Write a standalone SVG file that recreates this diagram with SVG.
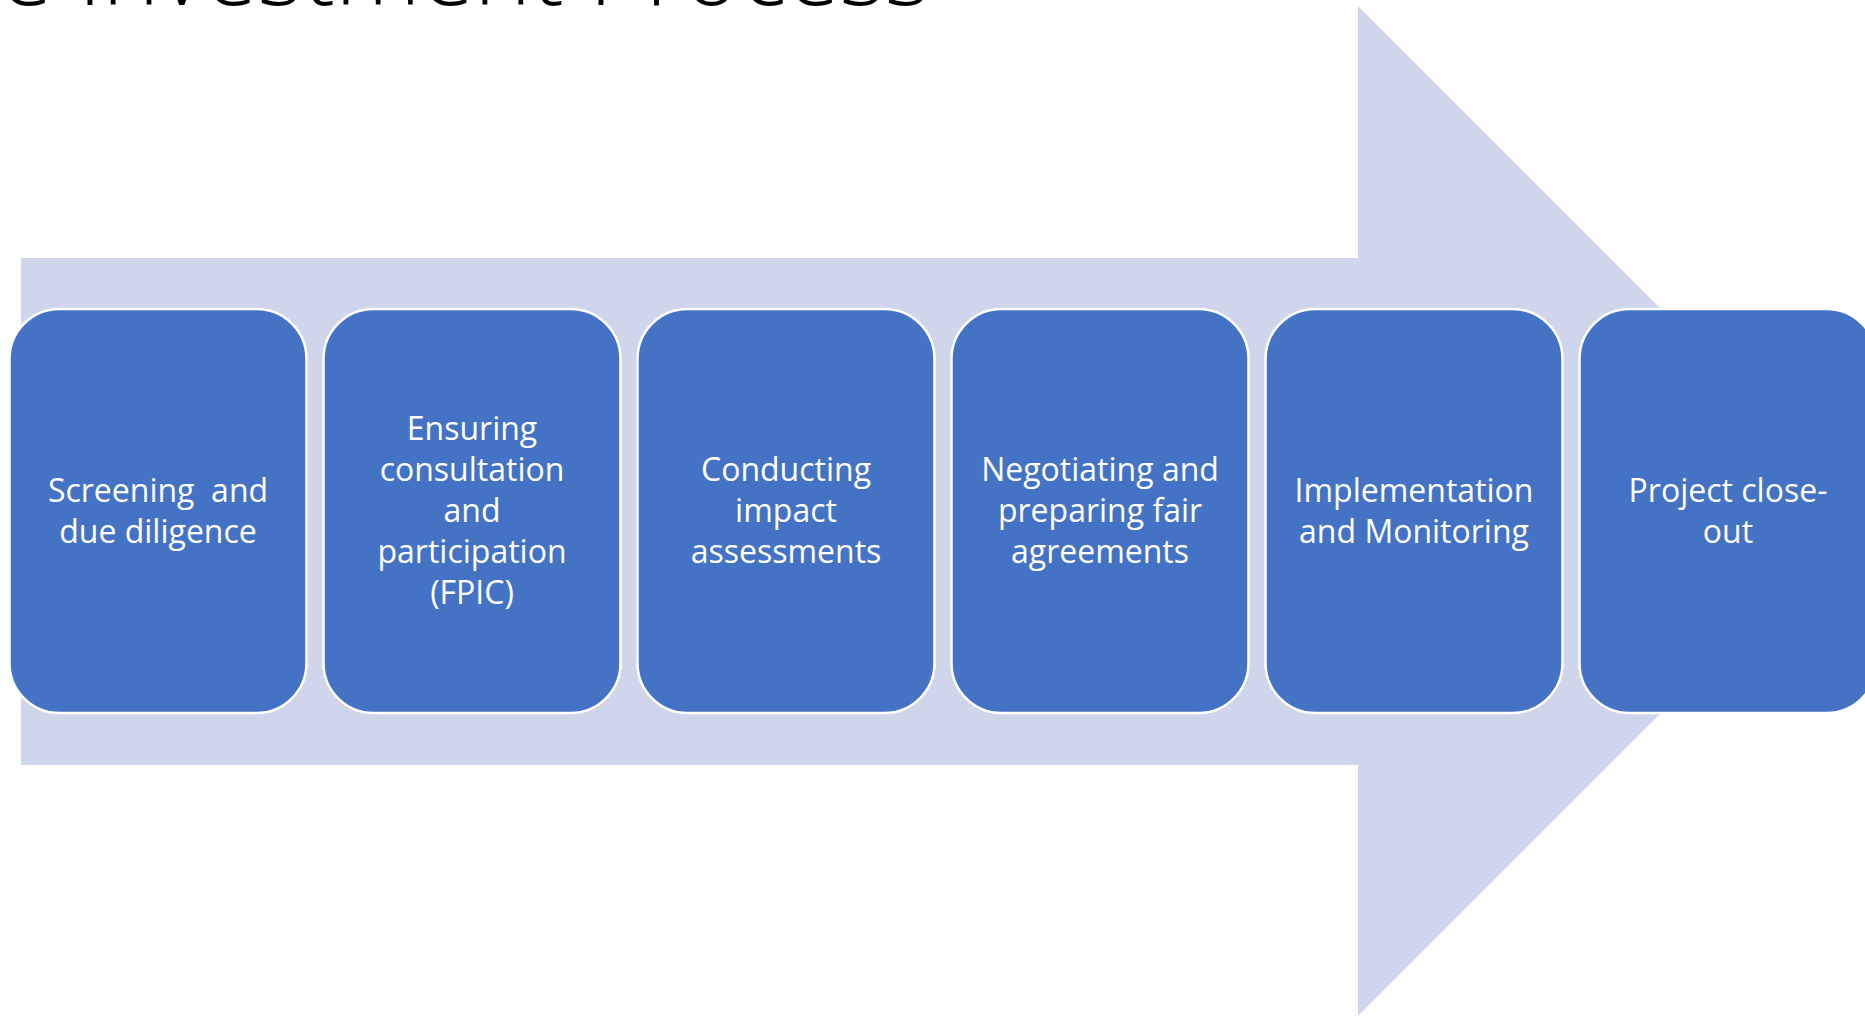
<svg xmlns="http://www.w3.org/2000/svg" width="1865" height="1016" viewBox="0 0 1865 1016">
<style>
.box{fill:#4472C4;stroke:#FFFFFF;stroke-width:2.5}
.lbl{font-family:"Open Sans","Noto Sans","Liberation Sans",sans-serif;font-size:32px;fill:#FFFFFF;text-anchor:middle;white-space:pre}
.title{font-family:"Open Sans","Liberation Sans",sans-serif;font-weight:300;font-size:97px;fill:#000000;text-anchor:end}
</style>
<rect width="1865" height="1016" fill="#FFFFFF"/>
<text class="title" x="930" y="5">e Investment Process</text>
<g id="connectors">
<polygon id="process-arrow" points="21,258 1358,258 1358,6 1863,511 1358,1016 1358,765 21,765" fill="#CFD5EA"/>
</g>
<g id="node-1">
<rect class="box" x="9.5" y="309" width="297" height="404" rx="50" ry="50"/>
<text class="lbl" x="158" y="501.5" xml:space="preserve">Screening  and</text>
<text class="lbl" x="158" y="542.5">due diligence</text>
</g>
<g id="node-2">
<rect class="box" x="323.5" y="309" width="297" height="404" rx="50" ry="50"/>
<text class="lbl" x="472" y="440">Ensuring</text>
<text class="lbl" x="472" y="481">consultation</text>
<text class="lbl" x="472" y="522">and</text>
<text class="lbl" x="472" y="563">participation</text>
<text class="lbl" x="472" y="604">(FPIC)</text>
</g>
<g id="node-3">
<rect class="box" x="637.5" y="309" width="297" height="404" rx="50" ry="50"/>
<text class="lbl" x="786" y="481">Conducting</text>
<text class="lbl" x="786" y="522">impact</text>
<text class="lbl" x="786" y="563">assessments</text>
</g>
<g id="node-4">
<rect class="box" x="951.5" y="309" width="297" height="404" rx="50" ry="50"/>
<text class="lbl" x="1100" y="481">Negotiating and</text>
<text class="lbl" x="1100" y="522">preparing fair</text>
<text class="lbl" x="1100" y="563">agreements</text>
</g>
<g id="node-5">
<rect class="box" x="1265.5" y="309" width="297" height="404" rx="50" ry="50"/>
<text class="lbl" x="1414" y="501.5">Implementation</text>
<text class="lbl" x="1414" y="542.5">and Monitoring</text>
</g>
<g id="node-6">
<rect class="box" x="1579.5" y="309" width="297" height="404" rx="50" ry="50"/>
<text class="lbl" x="1728" y="501.5">Project close-</text>
<text class="lbl" x="1728" y="542.5">out</text>
</g>
</svg>
